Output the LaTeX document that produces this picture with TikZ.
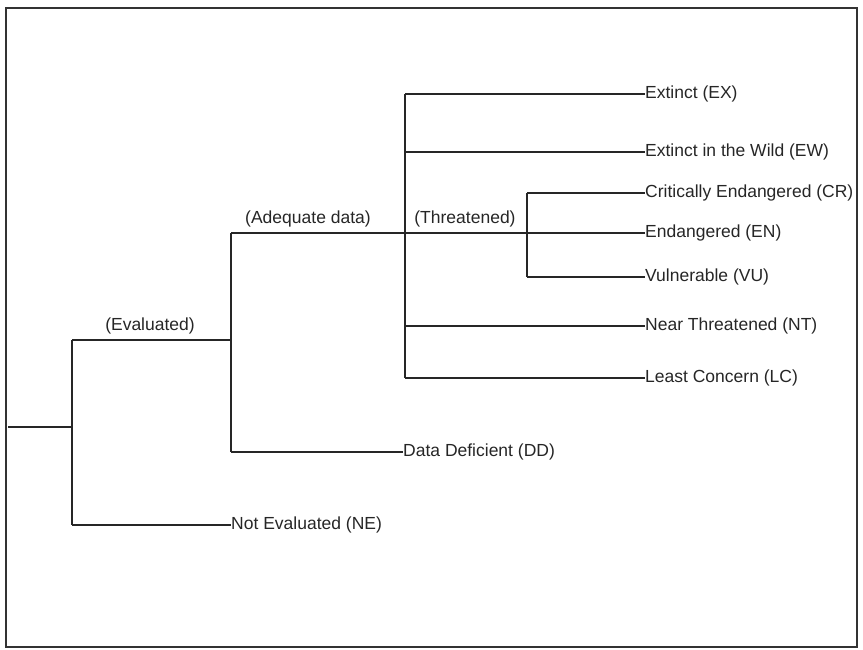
\documentclass[tikz,border=0pt]{standalone}
\usepackage{fontspec}
\setmainfont{Liberation Sans}
\begin{document}
\begin{tikzpicture}[x=1pt,y=-1pt,
  branch/.style={draw=black!85, line width=1.6pt},
  frame/.style={draw=black!80, line width=2.8pt},
  leaf/.style={anchor=west, inner sep=0pt, font=\fontsize{17.5}{20}\selectfont, text=black!85},
  tag/.style={anchor=base, inner sep=0pt, font=\fontsize{17.5}{20}\selectfont, text=black!85}]
\useasboundingbox (0,0) rectangle (863,650);
\draw[frame] (6,8) rectangle (857,647);
% junction coordinates
\coordinate (root) at (8,427);
\coordinate (j1) at (72,427);
\coordinate (j1t) at (72,340);
\coordinate (j1b) at (72,525);
\coordinate (j2) at (231,340);
\coordinate (j2t) at (231,233);
\coordinate (j2b) at (231,452);
\coordinate (j3) at (405,233);
\coordinate (j3t) at (405,94);
\coordinate (j3b) at (405,378);
\coordinate (j3a) at (405,152);
\coordinate (j3c) at (405,326);
\coordinate (j4) at (527,233);
\coordinate (j4t) at (527,193);
\coordinate (j4b) at (527,277);
% leaves
\node[leaf] (ex) at (645,94) {Extinct (EX)};
\node[leaf] (ew) at (645,152) {Extinct in the Wild (EW)};
\node[leaf] (cr) at (645,193) {Critically Endangered (CR)};
\node[leaf] (en) at (645,233) {Endangered (EN)};
\node[leaf] (vu) at (645,277) {Vulnerable (VU)};
\node[leaf] (nt) at (645,326) {Near Threatened (NT)};
\node[leaf] (lc) at (645,378) {Least Concern (LC)};
\node[leaf] (dd) at (403,452) {Data Deficient (DD)};
\node[leaf] (ne) at (231,525) {Not Evaluated (NE)};
% branch labels
\node[tag] (tev) at (150,330) {(Evaluated)};
\node[tag] (tad) at (308,224) {(Adequate data)};
\node[tag] (tth) at (465,224) {(Threatened)};
% connectors
\draw[branch] (root) -- (j1);
\draw[branch] (j1t) -- (j1b);
\draw[branch] (j1t) -- (j2);
\draw[branch] (j1b) -- (ne.west);
\draw[branch] (j2t) -- (j2b);
\draw[branch] (j2b) -- (dd.west);
\draw[branch] (j2t) -- (j3) -- (j4) -- (en.west);
\draw[branch] (j3t) -- (j3b);
\draw[branch] (j3t) -- (ex.west);
\draw[branch] (j3a) -- (ew.west);
\draw[branch] (j3c) -- (nt.west);
\draw[branch] (j3b) -- (lc.west);
\draw[branch] (j4t) -- (j4b);
\draw[branch] (j4t) -- (cr.west);
\draw[branch] (j4b) -- (vu.west);
\end{tikzpicture}
\end{document}
